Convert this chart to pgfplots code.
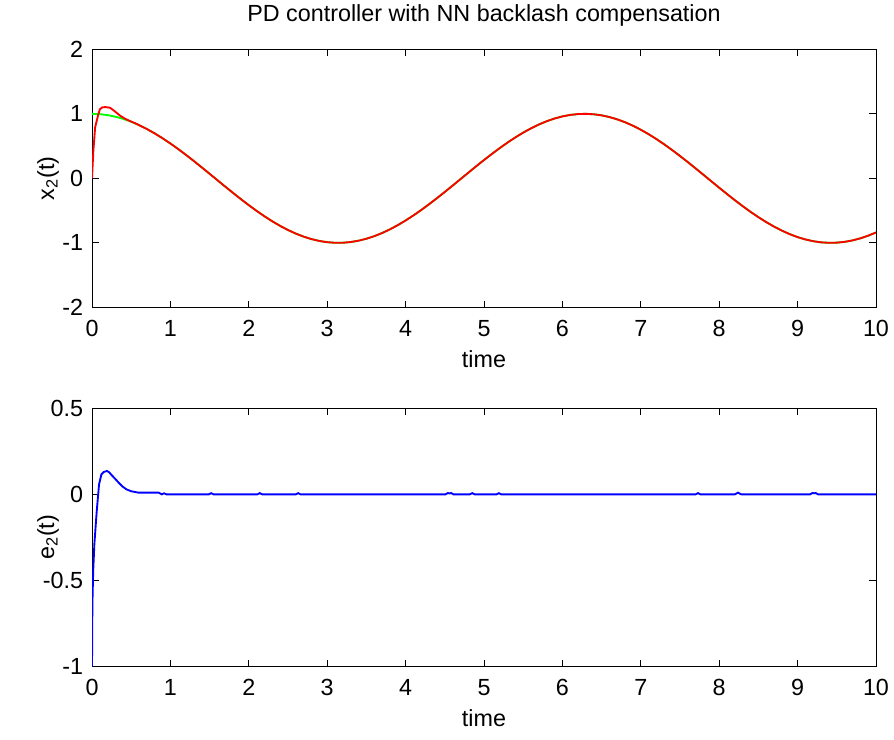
\documentclass[border=0pt]{standalone}
\usepackage{fontspec}
\setmainfont{Liberation Sans}
\usepackage{pgfplots}
\pgfplotsset{compat=1.18}
\begin{document}
\begin{tikzpicture}
\pgfplotsset{
 mystyle/.style={
  scale only axis, width=588pt, height=193.5pt,
  xmin=0,xmax=10,
  xtick={0,1,2,3,4,5,6,7,8,9,10}, xticklabels={0,1,2,3,4,5,6,7,8,9,10},
  tick align=inside, tickpos=both, major tick length=5pt,
  font=\fontsize{17.5}{20}\selectfont,
  ticklabel style={font=\fontsize{17.5}{20}\selectfont},
  xticklabel style={anchor=base, yshift=-21.75pt, inner sep=0pt},
  yticklabel style={anchor=east, xshift=-6.5pt, inner sep=0pt},
  xlabel={time},
  xlabel style={at={(axis description cs:0.5,0)}, anchor=base, yshift=-45pt},
  ylabel style={at={(axis description cs:-0.056,0.5)}, anchor=center},
  axis line style={line width=0.75pt},
  every tick/.style={black, line width=0.75pt},
 }
}
\path (0,0) rectangle (670.5pt,549pt);
\begin{axis}[mystyle, at={(69pt,324pt)}, anchor=south west,
  ymin=-2, ymax=2, ytick={-2,-1,0,1,2}, yticklabels={-2,-1,0,1,2},
  ylabel={x\textsubscript{2}(t)},
  title={PD controller with NN backlash compensation},
  title style={at={(axis description cs:0.5,1)}, anchor=base, yshift=15pt}]
\addplot[green, line width=1.4pt] coordinates {
(0.0,1.0000)(0.1,0.9950)(0.2,0.9801)(0.3,0.9553)(0.4,0.9211)(0.5,0.8776)(0.6,0.8253)(0.7,0.7648)(0.8,0.6967)(0.9,0.6216)
(1.0,0.5403)(1.1,0.4536)(1.2,0.3624)(1.3,0.2675)(1.4,0.1700)(1.5,0.0707)(1.6,-0.0292)(1.7,-0.1288)(1.8,-0.2272)(1.9,-0.3233)
(2.0,-0.4161)(2.1,-0.5048)(2.2,-0.5885)(2.3,-0.6663)(2.4,-0.7374)(2.5,-0.8011)(2.6,-0.8569)(2.7,-0.9041)(2.8,-0.9422)(2.9,-0.9710)
(3.0,-0.9900)(3.1,-0.9991)(3.2,-0.9983)(3.3,-0.9875)(3.4,-0.9668)(3.5,-0.9365)(3.6,-0.8968)(3.7,-0.8481)(3.8,-0.7910)(3.9,-0.7259)
(4.0,-0.6536)(4.1,-0.5748)(4.2,-0.4903)(4.3,-0.4008)(4.4,-0.3073)(4.5,-0.2108)(4.6,-0.1122)(4.7,-0.0124)(4.8,0.0875)(4.9,0.1865)
(5.0,0.2837)(5.1,0.3780)(5.2,0.4685)(5.3,0.5544)(5.4,0.6347)(5.5,0.7087)(5.6,0.7756)(5.7,0.8347)(5.8,0.8855)(5.9,0.9275)
(6.0,0.9602)(6.1,0.9833)(6.2,0.9965)(6.3,0.9999)(6.4,0.9932)(6.5,0.9766)(6.6,0.9502)(6.7,0.9144)(6.8,0.8694)(6.9,0.8157)
(7.0,0.7539)(7.1,0.6845)(7.2,0.6084)(7.3,0.5261)(7.4,0.4385)(7.5,0.3466)(7.6,0.2513)(7.7,0.1534)(7.8,0.0540)(7.9,-0.0460)
(8.0,-0.1455)(8.1,-0.2435)(8.2,-0.3392)(8.3,-0.4314)(8.4,-0.5193)(8.5,-0.6020)(8.6,-0.6787)(8.7,-0.7486)(8.8,-0.8111)(8.9,-0.8654)
(9.0,-0.9111)(9.1,-0.9477)(9.2,-0.9748)(9.3,-0.9922)(9.4,-0.9997)(9.5,-0.9972)(9.6,-0.9847)(9.7,-0.9624)(9.8,-0.9304)(9.9,-0.8892)
(10.0,-0.8391)
};
\addplot[red, line width=1.4pt] coordinates {
(0,0)(0.017,0.42)(0.04,0.79)(0.08,0.99)(0.10,1.07)(0.13,1.10)(0.17,1.105)(0.23,1.095)(0.29,1.04)(0.36,0.97)(0.42,0.925)(0.5,0.88)(0.55,0.855)(0.6,0.825)
(0.7,0.7648)(0.8,0.6967)(0.9,0.6216)
(1.0,0.5403)(1.1,0.4536)(1.2,0.3624)(1.3,0.2675)(1.4,0.1700)(1.5,0.0707)(1.6,-0.0292)(1.7,-0.1288)(1.8,-0.2272)(1.9,-0.3233)
(2.0,-0.4161)(2.1,-0.5048)(2.2,-0.5885)(2.3,-0.6663)(2.4,-0.7374)(2.5,-0.8011)(2.6,-0.8569)(2.7,-0.9041)(2.8,-0.9422)(2.9,-0.9710)
(3.0,-0.9900)(3.1,-0.9991)(3.2,-0.9983)(3.3,-0.9875)(3.4,-0.9668)(3.5,-0.9365)(3.6,-0.8968)(3.7,-0.8481)(3.8,-0.7910)(3.9,-0.7259)
(4.0,-0.6536)(4.1,-0.5748)(4.2,-0.4903)(4.3,-0.4008)(4.4,-0.3073)(4.5,-0.2108)(4.6,-0.1122)(4.7,-0.0124)(4.8,0.0875)(4.9,0.1865)
(5.0,0.2837)(5.1,0.3780)(5.2,0.4685)(5.3,0.5544)(5.4,0.6347)(5.5,0.7087)(5.6,0.7756)(5.7,0.8347)(5.8,0.8855)(5.9,0.9275)
(6.0,0.9602)(6.1,0.9833)(6.2,0.9965)(6.3,0.9999)(6.4,0.9932)(6.5,0.9766)(6.6,0.9502)(6.7,0.9144)(6.8,0.8694)(6.9,0.8157)
(7.0,0.7539)(7.1,0.6845)(7.2,0.6084)(7.3,0.5261)(7.4,0.4385)(7.5,0.3466)(7.6,0.2513)(7.7,0.1534)(7.8,0.0540)(7.9,-0.0460)
(8.0,-0.1455)(8.1,-0.2435)(8.2,-0.3392)(8.3,-0.4314)(8.4,-0.5193)(8.5,-0.6020)(8.6,-0.6787)(8.7,-0.7486)(8.8,-0.8111)(8.9,-0.8654)
(9.0,-0.9111)(9.1,-0.9477)(9.2,-0.9748)(9.3,-0.9922)(9.4,-0.9997)(9.5,-0.9972)(9.6,-0.9847)(9.7,-0.9624)(9.8,-0.9304)(9.9,-0.8892)
(10.0,-0.8391)
};
\end{axis}
\begin{axis}[mystyle, at={(69pt,54.75pt)}, anchor=south west,
  ymin=-1, ymax=0.5, ytick={-1,-0.5,0,0.5}, yticklabels={-1,-0.5,0,0.5},
  ylabel={e\textsubscript{2}(t)}]
\addplot[blue, line width=1.4pt] coordinates {
(0,-1)(0.005,-0.64)(0.015,-0.45)(0.03,-0.29)(0.06,-0.10)(0.09,0.058)(0.12,0.116)(0.15,0.13)(0.19,0.136)(0.22,0.128)(0.25,0.112)
(0.3,0.088)(0.34,0.068)(0.39,0.045)(0.44,0.029)(0.5,0.018)(0.59,0.01)(0.85,0.01)(0.89,0)(0.92,0.006)(0.95,0)
(1.49,0)(1.52,0.007)(1.55,0)
(2.11,0)(2.14,0.007)(2.17,0)
(2.60,0)(2.63,0.007)(2.66,0)
(4.51,0)(4.54,0.008)(4.56,0.005)(4.58,0.008)(4.61,0)
(4.82,0)(4.85,0.007)(4.88,0)
(5.16,0)(5.19,0.007)(5.22,0)
(7.70,0)(7.73,0.007)(7.76,0)
(8.20,0)(8.24,0.01)(8.28,0)
(9.16,0)(9.19,0.008)(9.21,0.006)(9.23,0.008)(9.26,0)
(10,0)
};
\end{axis}
\end{tikzpicture}
\end{document}
